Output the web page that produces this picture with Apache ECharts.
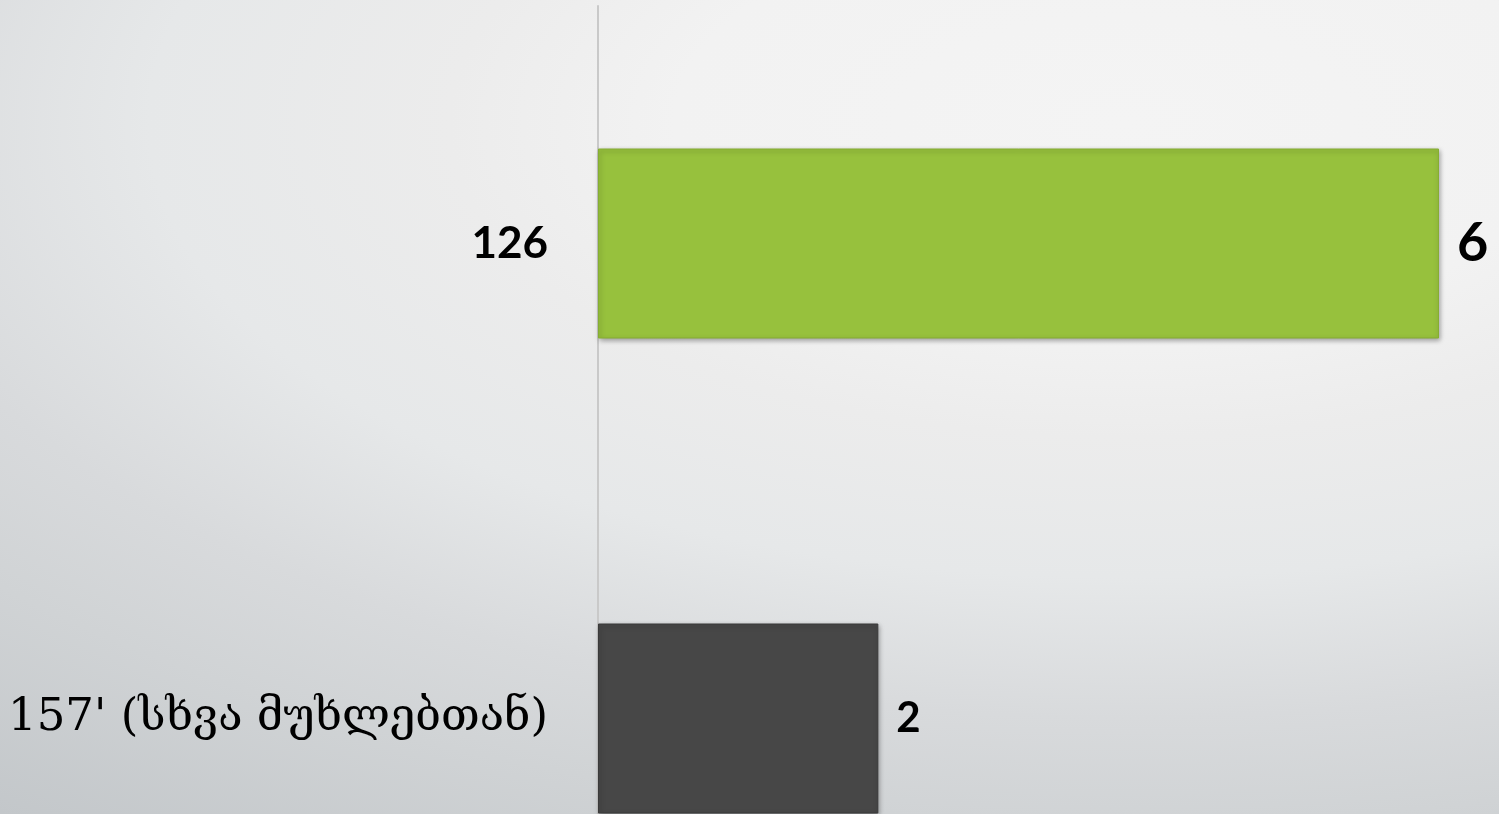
<!DOCTYPE html>
<html>
<head>
<meta charset="utf-8">
<script src="https://cdn.jsdelivr.net/npm/echarts@6/dist/echarts.min.js"></script>
<style>
  html, body { margin: 0; padding: 0; }
  #chart {
    width: 1499px; height: 814px;
    background: radial-gradient(1500px 700px at 75% 15%,
      #f4f4f4 0%, #f2f2f2 30%, #ececec 45%, #e6e8e9 65%, #d8dadc 85%, #d0d3d5 100%, #c3c7ca 124%);
  }
</style>
</head>
<body>
<div id="chart"></div>
<script>
// 数据
const categories = ['126', "157' (სხვა მუხლებთან)"]
const values = [6, 2]
const barColors = ['#97c13d', '#474747']
const labelSizes = [54, 42]

const myChart = echarts.init(document.getElementById('chart'))

const option = {
  backgroundColor: 'transparent',
  // 下方类别超出画布底部
  grid: {left: 598, right: 60, top: 6, height: 950, outerBoundsMode: 'none', containLabel: false},
  xAxis: {
    type: 'value', min: 0, max: 6, show: false
  },
  yAxis: {
    type: 'category',
    inverse: true,
    data: categories,
    axisLine: {lineStyle: {color: '#c9c9c9', width: 2}},
    axisTick: {show: false},
    axisLabel: {
      margin: 50,
      formatter: (v, i) => i === 0 ? '{a|' + v + '}' : '{b|' + v + '}',
      rich: {
        a: {fontFamily: 'Lato', fontWeight: 'bold', fontSize: 44, color: '#000'},
        b: {fontFamily: 'DejaVu Serif', fontSize: 45, color: '#000'}
      }
    }
  },
  series: [
    {
      type: 'bar',
      barCategoryGap: '60%',
      data: values.map((v, i) => ({
        value: v,
        itemStyle: {
          color: barColors[i],
          borderColor: i === 0 ? '#86ad33' : '#3a3a3a',
          borderWidth: 1,
          shadowBlur: 5,
          shadowColor: 'rgba(0,0,0,0.35)',
          shadowOffsetX: 1,
          shadowOffsetY: 2
        },
        label: {fontSize: labelSizes[i]}
      })),
      label: {
        show: true,
        position: 'right',
        distance: 18,
        fontFamily: 'Lato',
        fontWeight: 'bold',
        color: '#000'
      }
    }
  ]
}

myChart.setOption(option)
</script>
</body>
</html>
